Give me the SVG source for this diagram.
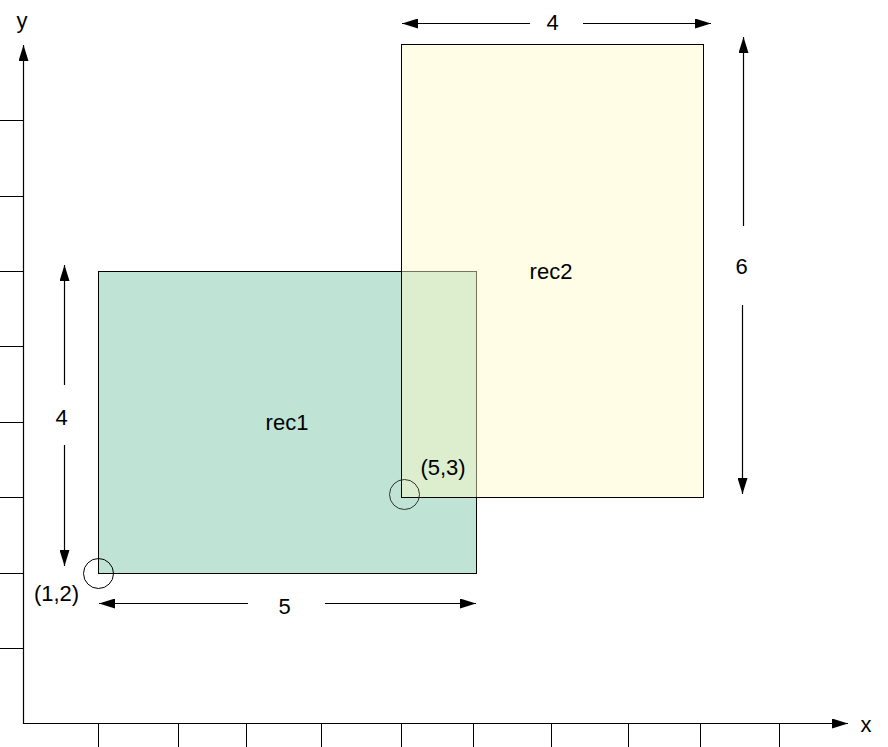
<svg xmlns="http://www.w3.org/2000/svg" width="888" height="747" viewBox="0 0 888 747">
<style>
.ln{stroke:#000;stroke-width:1.2;fill:none}
.tk{stroke:#000;stroke-width:1;fill:none}
.t{font-family:"Liberation Sans",Arial,sans-serif;font-size:22px;fill:#000;text-anchor:middle}
</style>
<defs>
<marker id="ah" viewBox="0 0 16 10" refX="16" refY="5" markerWidth="16" markerHeight="10" markerUnits="userSpaceOnUse" orient="auto-start-reverse">
<path d="M0,0 L16,5 L0,10 Z" fill="#000"/>
</marker>
</defs>
<rect width="888" height="747" fill="#fff"/>
<g id="axes">
<line class="ln" x1="23.5" y1="724" x2="23.5" y2="45" marker-end="url(#ah)"/>
<line class="ln" x1="23" y1="723.5" x2="848" y2="723.5" marker-end="url(#ah)"/>
<g class="tk">
<line x1="0" y1="120.5" x2="23" y2="120.5"/>
<line x1="0" y1="196.5" x2="23" y2="196.5"/>
<line x1="0" y1="271.5" x2="23" y2="271.5"/>
<line x1="0" y1="346.5" x2="23" y2="346.5"/>
<line x1="0" y1="422.5" x2="23" y2="422.5"/>
<line x1="0" y1="497.5" x2="23" y2="497.5"/>
<line x1="0" y1="573.5" x2="23" y2="573.5"/>
<line x1="0" y1="648.5" x2="23" y2="648.5"/>
<line x1="98.5" y1="724" x2="98.5" y2="747"/>
<line x1="178.5" y1="724" x2="178.5" y2="747"/>
<line x1="246.5" y1="724" x2="246.5" y2="747"/>
<line x1="321.5" y1="724" x2="321.5" y2="747"/>
<line x1="401.5" y1="724" x2="401.5" y2="747"/>
<line x1="473.5" y1="724" x2="473.5" y2="747"/>
<line x1="551.5" y1="724" x2="551.5" y2="747"/>
<line x1="628.5" y1="724" x2="628.5" y2="747"/>
<line x1="700.5" y1="724" x2="700.5" y2="747"/>
<line x1="779.5" y1="724" x2="779.5" y2="747"/>
</g>
<text class="t" x="22" y="28">y</text>
<text class="t" x="866" y="732">x</text>
</g>
<g id="rec1">
<rect x="98.5" y="271.5" width="378" height="302" fill="#bfe3d4" stroke="#000" stroke-width="1"/>
<text class="t" x="287" y="430">rec1</text>
</g>
<g id="rec2">
<rect x="401.5" y="44.5" width="302" height="453" fill="#fffac6" fill-opacity="0.46" stroke="#000" stroke-width="1"/>
<text class="t" x="551" y="279">rec2</text>
</g>
<g id="points">
<circle cx="98.5" cy="573.5" r="15" fill="none" stroke="#000" stroke-width="1"/>
<text class="t" x="56.5" y="601" fill="#1a0d0d">(1,2)</text>
<circle cx="404.5" cy="494.5" r="15" fill="none" stroke="#333" stroke-width="1"/>
<text class="t" x="443" y="475">(5,3)</text>
</g>
<g id="connectors">
<line class="ln" x1="530" y1="23.5" x2="402" y2="23.5" marker-end="url(#ah)"/>
<line class="ln" x1="583" y1="23.5" x2="711" y2="23.5" marker-end="url(#ah)"/>
<line class="ln" x1="743.5" y1="226" x2="743.5" y2="37" marker-end="url(#ah)"/>
<line class="ln" x1="742.5" y1="305" x2="742.5" y2="494" marker-end="url(#ah)"/>
<line class="ln" x1="64.5" y1="385" x2="64.5" y2="265" marker-end="url(#ah)"/>
<line class="ln" x1="64.5" y1="445" x2="64.5" y2="566" marker-end="url(#ah)"/>
<line class="ln" x1="248" y1="603.5" x2="99" y2="603.5" marker-end="url(#ah)"/>
<line class="ln" x1="325" y1="603.5" x2="476" y2="603.5" marker-end="url(#ah)"/>
</g>
<g id="labels">
<text class="t" x="552.5" y="30" fill="#2a0a0a">4</text>
<text class="t" x="741.5" y="274">6</text>
<text class="t" x="61.5" y="425" fill="#14143c">4</text>
<text class="t" x="284.5" y="614">5</text>
</g>
</svg>
